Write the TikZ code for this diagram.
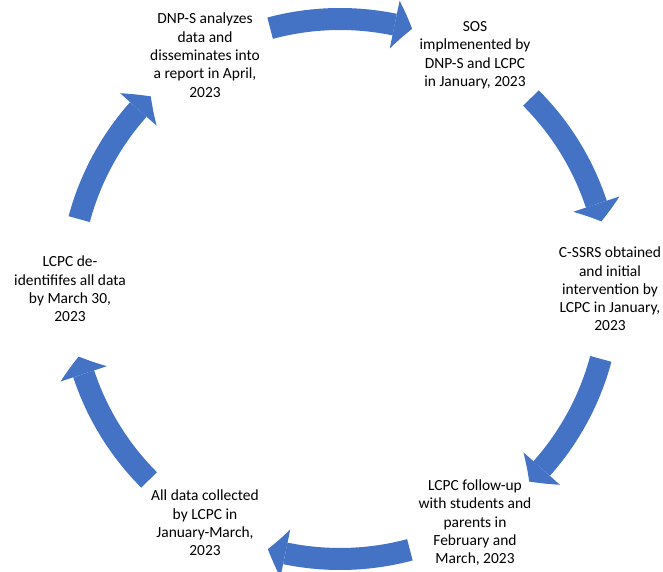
\documentclass[tikz,border=0pt]{standalone}
\usepackage{fontspec}
\setmainfont{Carlito}
\usetikzlibrary{
arrows.meta,
bending,
calc,
}
\definecolor{cycleblue}{HTML}{4472C4}

\begin{document}
\begin{tikzpicture}[
		stage/.style={align=center, font=\fontsize{11}{13}\selectfont},
		cyclearrow/.style={draw=cycleblue, line width=0.55cm,
			-{Triangle[width=1.22cm, length=0.45cm, line width=0pt, bend]}},
	]
			% Define coordinates
			\useasboundingbox (0,0) rectangle (16.575,14.3);
			\coordinate (O) at (8.5,7.075);

			% Stages of the cycle
			\node[stage] (dnp) at ($(O)+(120:6.75)$) {DNP-S analyzes\\data and\\disseminates into\\a report in April,\\2023};
			\node[stage] (sos) at ($(O)+(60:6.75)$) {SOS\\implmenented by\\DNP-S and LCPC\\in January, 2023};
			\node[stage] (cssrs) at ($(O)+(0:6.75)$) {C-SSRS obtained\\and initial\\intervention by\\LCPC in January,\\2023};
			\node[stage] (followup) at ($(O)+(-60:6.75)$) {LCPC follow-up\\with students and\\parents in\\February and\\March, 2023};
			\node[stage] (collected) at ($(O)+(-120:6.75)$) {All data collected\\by LCPC in\\January-March,\\2023};
			\node[stage] (deid) at ($(O)+(180:6.75)$) {LCPC de-\\identififes all data\\by March 30,\\2023};

			% Arrows between the stages
			\draw[cyclearrow] ($(O)+(105:6.75)$) arc[start angle=105, end angle=74.5, radius=6.75];
			\draw[cyclearrow] ($(O)+(45:6.75)$) arc[start angle=45, end angle=14.5, radius=6.75];
			\draw[cyclearrow] ($(O)+(-15:6.75)$) arc[start angle=-15, end angle=-45.5, radius=6.75];
			\draw[cyclearrow] ($(O)+(-75:6.75)$) arc[start angle=-75, end angle=-105.5, radius=6.75];
			\draw[cyclearrow] ($(O)+(-135:6.75)$) arc[start angle=-135, end angle=-165.5, radius=6.75];
			\draw[cyclearrow] ($(O)+(165:6.75)$) arc[start angle=165, end angle=134.5, radius=6.75];

		\end{tikzpicture}
\end{document}
